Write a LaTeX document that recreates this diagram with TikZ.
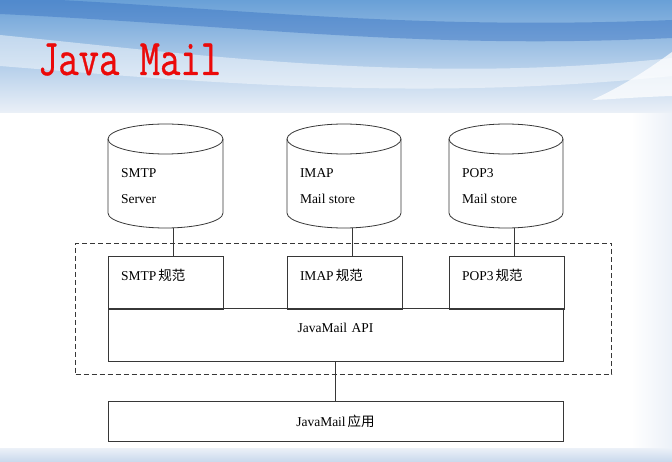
\documentclass[tikz,border=0pt]{standalone}
\usepackage{fontspec}
\usepackage{graphicx}
\setmainfont{Liberation Serif}
\newfontfamily\cjk{Noto Sans CJK SC}
\newfontfamily\titlefont[FakeBold=0.7]{Latin Modern Mono}
\usetikzlibrary{positioning}

\definecolor{linegray}{RGB}{55,55,55}
\definecolor{titlered}{RGB}{235,10,10}
\definecolor{hdrtop}{RGB}{105,160,215}
\definecolor{hdrdark}{RGB}{45,105,190}
\definecolor{hdrlow}{RGB}{236,241,248}
\definecolor{edgeblue}{RGB}{200,216,236}

\begin{document}
\begin{tikzpicture}[x=1pt,y=-1pt,inner sep=0pt,outer sep=0pt,line width=.8pt,
specbox/.style={draw=linegray,rectangle,text width=89pt,align=left,inner xsep=13pt,inner ysep=15pt,text height=10pt,text depth=13pt,font=\fontsize{13.5}{16}\selectfont},
apibox/.style={draw=linegray,rectangle,text width=429pt,align=center,inner xsep=13pt,inner ysep=15pt,text height=10pt,text depth=13pt,font=\fontsize{13.5}{16}\selectfont},
appbox/.style={draw=linegray,rectangle,minimum width=455pt,minimum height=40pt,font=\fontsize{13.5}{16}\selectfont},
dbtext/.style={align=left,anchor=north west,font=\fontsize{13.5}{26}\selectfont},
corebox/.style={draw=linegray,rectangle,dash pattern=on 5pt off 3pt,minimum width=536pt,minimum height=131pt}]

% background
\useasboundingbox (0,0) rectangle (672,462);
\fill[white] (0,0) rectangle (672,462);
\shade[top color=hdrtop,bottom color=hdrlow] (0,0) rectangle (672,114);
\fill[hdrdark,opacity=.4] (60,0) .. controls (250,10) and (420,30) .. (672,20) -- (672,38) .. controls (420,50) and (250,26) .. (0,14) -- (0,0) -- cycle;
\fill[white,opacity=.45] (0,35) .. controls (200,55) and (420,85) .. (672,58) -- (672,76) .. controls (420,102) and (200,82) .. (0,66) -- cycle;
\fill[white,opacity=.75] (592,100) .. controls (625,85) and (650,68) .. (672,52) -- (672,96) .. controls (640,97) and (615,99) .. (592,100) -- cycle;
\shade[left color=white,right color=hdrlow] (631,114) rectangle (672,448);
\shade[top color=hdrlow,bottom color=edgeblue] (0,448) rectangle (672,462);
\fill[white] (0,113) rectangle (631,448);

\node[anchor=base west,text=titlered,font=\titlefont\fontsize{39.5}{40}\selectfont] (title) at (38,75) {\scalebox{1}[1.3]{Java Mail}};

% mail stores
\draw[linegray] (108,139) -- (108,213) arc[start angle=180,end angle=0,x radius=57.5,y radius=15] -- (223,139);
\draw[linegray] (165.5,139) ellipse[x radius=57.5,y radius=15];
\draw[linegray] (287,139) -- (287,213) arc[start angle=180,end angle=0,x radius=57,y radius=15] -- (401,139);
\draw[linegray] (344,139) ellipse[x radius=57,y radius=15];
\draw[linegray] (449,139) -- (449,213) arc[start angle=180,end angle=0,x radius=57,y radius=15] -- (563,139);
\draw[linegray] (506,139) ellipse[x radius=57,y radius=15];

\node[dbtext] (smtpdb) at (121,168.5) {SMTP\\Server};
\node[dbtext] (imapdb) at (300,168.5) {IMAP\\Mail store};
\node[dbtext] (popdb) at (462,168.5) {POP3\\Mail store};
\coordinate (smtpbase) at (173,228);
\coordinate (imapbase) at (352,228);
\coordinate (popbase) at (514,228);

% JavaMail layers
\node[corebox] (core) at (343.5,308.5) {};
\node[specbox,anchor=north west] (smtpspec) at (108,256) {SMTP\hspace{2pt}{\cjk 规范}};
\node[specbox,anchor=north west] (imapspec) at (287,256) {IMAP\hspace{2pt}{\cjk 规范}};
\node[specbox,anchor=north west] (popspec) at (449,256) {POP3\hspace{2pt}{\cjk 规范}};
\node[apibox,anchor=north west] (api) at ([yshift=1pt]smtpspec.south west) {JavaMail API};
\node[appbox,below=40pt of api] (app) {JavaMail\hspace{2pt}{\cjk 应用}};

\draw[linegray] (smtpbase) -- (smtpbase |- smtpspec.north);
\draw[linegray] (imapbase) -- (imapbase |- imapspec.north);
\draw[linegray] (popbase) -- (popbase |- popspec.north);
\draw[linegray] (api) -- (app);
\end{tikzpicture}
\end{document}
